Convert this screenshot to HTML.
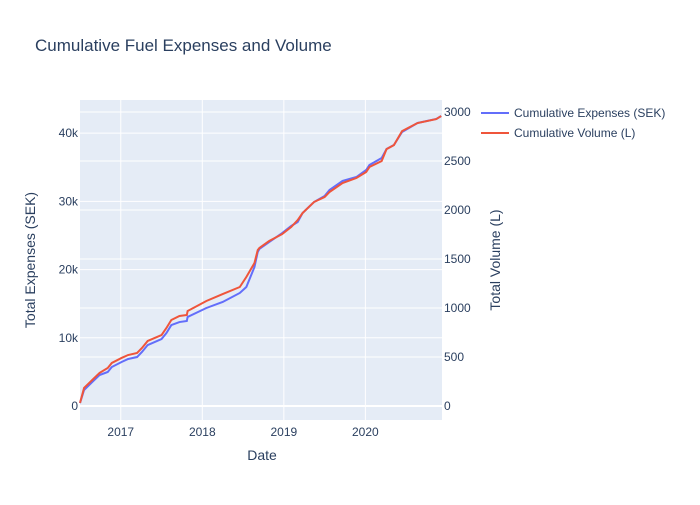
<!DOCTYPE html>
<html><head><meta charset="utf-8"><style>
body{margin:0;background:#fff}
text{font-family:"Liberation Sans",Arial,sans-serif;fill:#2a3f5f}
</style></head><body>
<svg id="chart" width="700" height="500"></svg>
<script>
const blueYears=[2016.50,2016.55,2016.65,2016.74,2016.84,2016.89,2017.01,2017.09,2017.20,2017.26,2017.33,2017.50,2017.56,2017.62,2017.72,2017.81,2017.82,2018.05,2018.25,2018.46,2018.54,2018.64,2018.68,2018.70,2018.82,2018.98,2019.09,2019.17,2019.23,2019.37,2019.50,2019.56,2019.72,2019.89,2020.01,2020.05,2020.20,2020.26,2020.35,2020.45,2020.64,2020.87,2020.93];
const expenses=[440,2350,3520,4540,4990,5720,6450,6890,7180,7920,8940,9820,10700,11870,12310,12460,13050,14370,15250,16570,17450,20380,22580,23020,24040,25360,26390,26970,28290,29900,30790,31670,32990,33570,34600,35330,36360,37680,38260,40170,41490,42080,42510];
const volume=[31,184,265,337,388,439,490,520,541,592,663,724,796,877,918,928,969,1071,1142,1214,1316,1459,1591,1612,1683,1754,1826,1897,1969,2081,2132,2183,2275,2326,2387,2438,2499,2621,2662,2805,2887,2927,2958];
const xTicks=[2017,2018,2019,2020];
const yLeftTicks=[0,10000,20000,30000,40000];
const yLeftLabels=["0","10k","20k","30k","40k"];
const yRightTicks=[0,500,1000,1500,2000,2500,3000];

const L=80,R=442,T=100,B=420;
const xMin=2016.5,xMax=2020.94,ylMin=-2050,ylMax=44860,yrMin=-143,yrMax=3122;
const X=v=>L+(v-xMin)/(xMax-xMin)*(R-L);
const YL=v=>B-(v-ylMin)/(ylMax-ylMin)*(B-T);
const YR=v=>B-(v-yrMin)/(yrMax-yrMin)*(B-T);
const svg=document.getElementById('chart');
const NS='http://www.w3.org/2000/svg';
function mk(tag,attrs,txt){const e=document.createElementNS(NS,tag);for(const k in attrs)e.setAttribute(k,attrs[k]);if(txt!==undefined)e.textContent=txt;svg.appendChild(e);return e;}

let e=mk('rect',{x:L,y:T,width:R-L,height:B-T,fill:'#e5ecf6'});


xTicks.forEach(t=>{
  let g=mk('line',{x1:X(t),x2:X(t),y1:T,y2:B,stroke:'#fff','stroke-width':1});
  
  
  let l=mk('text',{x:X(t),y:436,'text-anchor':'middle','font-size':12},t);
  
  
});
yLeftTicks.forEach((t,i)=>{
  let g=mk('line',{x1:L,x2:R,y1:YL(t),y2:YL(t),stroke:'#fff','stroke-width':t===0?2:1});
  
  
  let l=mk('text',{x:L-2,y:YL(t)+4,'text-anchor':'end','font-size':12},yLeftLabels[i]);
  
  
});
yRightTicks.forEach(t=>{
  let g=mk('line',{x1:L,x2:R,y1:YR(t),y2:YR(t),stroke:'#fff','stroke-width':t===0?2:1});
  
  
  let l=mk('text',{x:R+2,y:YR(t)+4,'text-anchor':'start','font-size':12},t);
  
  
});
let p1=mk('polyline',{points:blueYears.map((y,i)=>X(y)+','+YL(expenses[i])).join(' '),fill:'none',stroke:'#636efa','stroke-width':2});


let p2=mk('polyline',{points:blueYears.map((y,i)=>X(y)+','+YR(volume[i])).join(' '),fill:'none',stroke:'#ef553b','stroke-width':2});



let t=mk('text',{x:35,y:51,'font-size':17},'Cumulative Fuel Expenses and Volume');


t=mk('text',{x:262,y:460,'text-anchor':'middle','font-size':14},'Date');


t=mk('text',{x:0,y:0,'text-anchor':'middle','font-size':14,transform:'translate(35,260) rotate(-90)'},'Total Expenses (SEK)');


t=mk('text',{x:0,y:0,'text-anchor':'middle','font-size':14,transform:'translate(500,260) rotate(-90)'},'Total Volume (L)');



[['Cumulative Expenses (SEK)','#636efa',113],['Cumulative Volume (L)','#ef553b',133]].forEach(([n,c,y])=>{
  let ln=mk('line',{x1:481,x2:509,y1:y,y2:y,stroke:c,'stroke-width':2});
  
  
  let tx=mk('text',{x:514,y:y+4,'font-size':12},n);
  
  
});
</script>
</body></html>
